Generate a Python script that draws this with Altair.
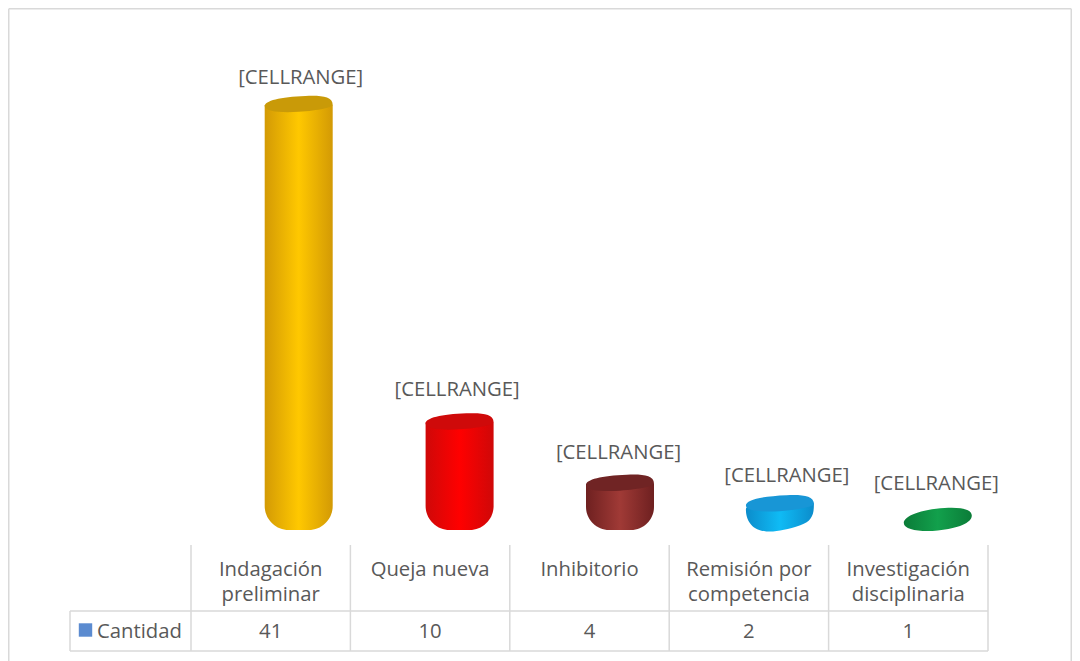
import altair as alt
import pandas as pd

categories = ["Indagación\npreliminar", "Queja nueva", "Inhibitorio",
              "Remisión por\ncompetencia", "Investigación\ndisciplinaria"]
cantidad = [41, 10, 4, 2, 1]
data_labels = ["[CELLRANGE]"] * 5
series_name = "Cantidad"
base_level = -0.5

# --- styles (kept apart from the data) ---
edge_colors = ["#D39A05", "#CF0808", "#6E2020", "#0C8CCB", "#0B7C38"]
mid_colors = ["#FFC800", "#FF0000", "#A03A36", "#0FBBF5", "#12A04C"]
cap_colors = ["#C99A08", "#CF0A0A", "#702424", "#1896D6", "#0E8C40"]
bar_dx = [28, 29.5, 30.5, 31, 29.5]
label_dx = [30, 27, 29, 38, 28]
label_dy = [-27, -32, -31, -28, -31]
FONT = "Open Sans"
FS = 20.3
TEXT = "#595959"
GRID = "#D9D9D9"
W, H = 797, 522
OX, OY = 183, 0     # plot origin inside the svg
BAR_W = 68
RIGHT = 1064 - OX - W
CAP = ("M-1,0.03 C-1,-0.13 -0.55,-0.24 0.2,-0.27 C0.65,-0.29 1,-0.26 1,-0.01 "
       "C1,0.06 0.6,0.16 0,0.2 C-0.5,0.23 -1,0.2 -1,0.03 Z")
BLOB_BLUE = ("M-1,-0.15 C-1,-0.3 -0.5,-0.42 0.2,-0.46 C0.7,-0.49 1,-0.44 1,-0.3 "
             "C1,0.0 0.95,0.2 0.6,0.32 C0.2,0.45 -0.1,0.52 -0.4,0.5 C-0.85,0.47 -1,0.15 -1,-0.15 Z")
BLOB_GREEN = ("M-1,0.1 C-1,-0.1 -0.5,-0.3 0.2,-0.34 C0.7,-0.37 1,-0.3 1,-0.12 "
              "C1,0.1 0.6,0.26 0,0.32 C-0.5,0.37 -1,0.3 -1,0.1 Z")

df = pd.DataFrame({"cat": categories, "value": cantidad, "base": base_level, "label": data_labels})
one = alt.Data(values=[{"k": 1}])

xs = alt.X("cat:N", sort=None, axis=None,
           scale=alt.Scale(domain=categories, paddingInner=0, paddingOuter=0))
ys = alt.Y("value:Q", axis=None, scale=alt.Scale(domain=[base_level, 50.48], nice=False, zero=False))

layers = []

def rule(x1, y1, x2, y2, color=GRID, width=1.5):
    return alt.Chart(one).mark_rule(color=color, strokeWidth=width).encode(
        x=alt.value(x1), x2=alt.value(x2), y=alt.value(y1), y2=alt.value(y2))

# outer chart frame
frame_r = W + RIGHT - 0.75
layers.append(rule(-OX + 0.75, 0.75, frame_r, 0.75))
layers.append(rule(-OX + 0.75, 0.75, -OX + 0.75, 660))
layers.append(rule(frame_r, 0.75, frame_r, 660))

# data table grid
step = W / 5
for i in range(6):
    layers.append(rule(i * step, 537, i * step, 643))
layers.append(rule(-121, 603, W, 603))
layers.append(rule(-121, 643, W, 643))
layers.append(rule(-121, 603, -121, 643))

for i, row in df.iterrows():
    sub = df.iloc[[i]]
    grad = alt.Gradient(gradient="linear", x1=0, x2=1, y1=0, y2=0, stops=[
        alt.GradientStop(offset=0, color=edge_colors[i]),
        alt.GradientStop(offset=0.5, color=mid_colors[i]),
        alt.GradientStop(offset=1, color=edge_colors[i])])
    if i < 3:
        layers.append(alt.Chart(sub).mark_bar(
            size=BAR_W, xOffset=bar_dx[i], fill=grad,
            cornerRadiusBottomLeft=24, cornerRadiusBottomRight=24
        ).encode(x=xs, y=ys, y2=alt.Y2("base:Q")))
    else:
        layers.append(alt.Chart(sub).mark_point(
            shape=BLOB_BLUE if i == 3 else BLOB_GREEN, size=BAR_W ** 2, filled=True, opacity=1,
            fill=grad, strokeWidth=0, xOffset=bar_dx[i], yOffset=10 if i == 3 else 5
        ).encode(x=xs, y=ys))
    if i < 4:
        layers.append(alt.Chart(sub).mark_point(
            shape=CAP, size=BAR_W ** 2, filled=True, opacity=1, fill=cap_colors[i],
            strokeWidth=0, xOffset=bar_dx[i]
        ).encode(x=xs, y=ys))
    layers.append(alt.Chart(sub).mark_text(
        font=FONT, fontSize=FS, color=TEXT, align="center", baseline="middle",
        dx=label_dx[i], dy=label_dy[i]
    ).encode(x=xs, y=ys, text="label:N"))

# table text
layers.append(alt.Chart(df).mark_text(
    font=FONT, fontSize=FS, color=TEXT, align="center", baseline="top",
    lineBreak="\n", lineHeight=25
).encode(x=xs, y=alt.value(552), text="cat:N"))
layers.append(alt.Chart(df).mark_text(
    font=FONT, fontSize=FS, color=TEXT, align="center", baseline="middle"
).encode(x=xs, y=alt.value(624), text="value:Q"))

# legend key cell
layers.append(alt.Chart(one).mark_square(size=180, color="#5B8BD0", opacity=1).encode(
    x=alt.value(-105.5), y=alt.value(622)))
layers.append(alt.Chart(alt.Data(values=[{"t": series_name}])).mark_text(
    font=FONT, fontSize=FS, color=TEXT, align="left", baseline="middle"
).encode(x=alt.value(-94), y=alt.value(624), text="t:N"))

chart = alt.layer(*layers).properties(
    width=W, height=H,
    padding={"left": OX, "top": OY, "right": RIGHT, "bottom": 131},
    autosize=alt.AutoSizeParams(type="none"),
    background="white"
).configure_view(stroke=None)

chart.save("out.html", embed_options={"renderer": "svg", "actions": False})
